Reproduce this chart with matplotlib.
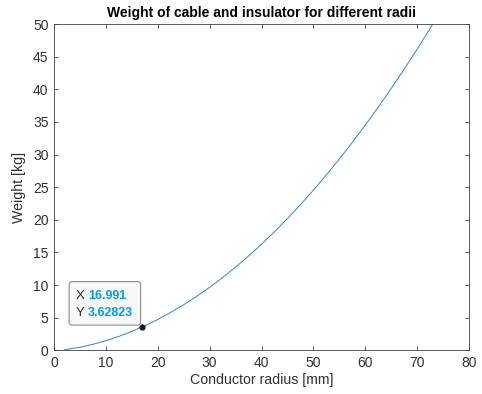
import matplotlib
matplotlib.use("Agg")
import matplotlib.pyplot as plt
from matplotlib.patches import FancyBboxPatch
from matplotlib.transforms import IdentityTransform

plt.rcParams['font.family'] = ['Liberation Sans', 'DejaVu Sans']

# Data
radius_mm = [2, 5, 7.5, 10, 12.5, 15, 16.991, 17.5, 20, 22.5, 25, 27.5, 30, 32.5,
             35, 37.5, 40, 42.5, 45, 47.5, 50, 52.5, 55, 57.5, 60, 62.5, 65,
             67.5, 70, 72.5, 75]
weight_kg = [0.08, 0.47, 0.92, 1.47, 2.13, 2.89, 3.62823, 3.75, 4.72, 5.80, 6.98,
             8.26, 9.65, 11.14, 12.74, 14.45, 16.26, 18.17, 20.19, 22.31, 24.54,
             26.87, 29.31, 31.85, 34.5, 37.25, 40.11, 43.07, 46.14, 49.31, 52.59]
tip_x = 16.991
tip_y = 3.62823
x_ticks = [0, 10, 20, 30, 40, 50, 60, 70, 80]
y_ticks = [0, 5, 10, 15, 20, 25, 30, 35, 40, 45, 50]

title = "Weight of cable and insulator for different radii"
xlabel = "Conductor radius [mm]"
ylabel = "Weight [kg]"

W, H = 482, 394
fig = plt.figure(figsize=(W / 100, H / 100), dpi=100)
ax = fig.add_axes([54 / W, (H - 350.3) / H, (469 - 54) / W, (350.3 - 24) / H])

ax.plot(radius_mm, weight_kg, color='#2F86CC', lw=0.7)
ax.set_xlim(0, 80)
ax.set_ylim(0, 50)
ax.set_xticks(x_ticks)
ax.set_yticks(y_ticks)

axc = '#404040'
for s in ax.spines.values():
    s.set_color(axc)
    s.set_linewidth(0.6)
ax.tick_params(direction='in', length=3.2, width=0.6, color=axc, labelcolor='#303030',
               labelsize=10, top=True, right=True, pad=4)
ax.set_title(title, fontsize=10, fontweight='bold', color='black', pad=5)
ax.set_xlabel(xlabel, fontsize=10.2, color='#303030', labelpad=2)
ax.set_ylabel(ylabel, fontsize=10.2, color='#303030', labelpad=5)

# Data tip
ax.plot([tip_x], [tip_y], 'o', color='#1a1a1a', ms=3.5, zorder=5)
fig.canvas.draw()
px, py = ax.transData.transform((tip_x, tip_y))
bw, bh = 71.5, 43.5
box = FancyBboxPatch((px - bw - 1.5, py + 1.5), bw, bh,
                     boxstyle="round,pad=0,rounding_size=3",
                     transform=IdentityTransform(),
                     facecolor='#F8F8F8', edgecolor='#8C8C8C', lw=0.8, zorder=4)
fig.add_artist(box)
lab_x = px - 66
row1 = py + 1.5 + bh - 14.5
row2 = py + 1.5 + bh - 31
for lab, val, yy in (("X", tip_x, row1), ("Y", tip_y, row2)):
    fig.text(lab_x / W, yy / H, lab, fontsize=9.5, color='#303030',
             va='center', ha='left', zorder=6)
    fig.text((lab_x + 12) / W, yy / H, f"{val:g}", fontsize=9,
             color='#0099FF', fontweight='bold', va='center', ha='left', zorder=6)

fig.savefig("out.png", dpi=100, facecolor='white')
